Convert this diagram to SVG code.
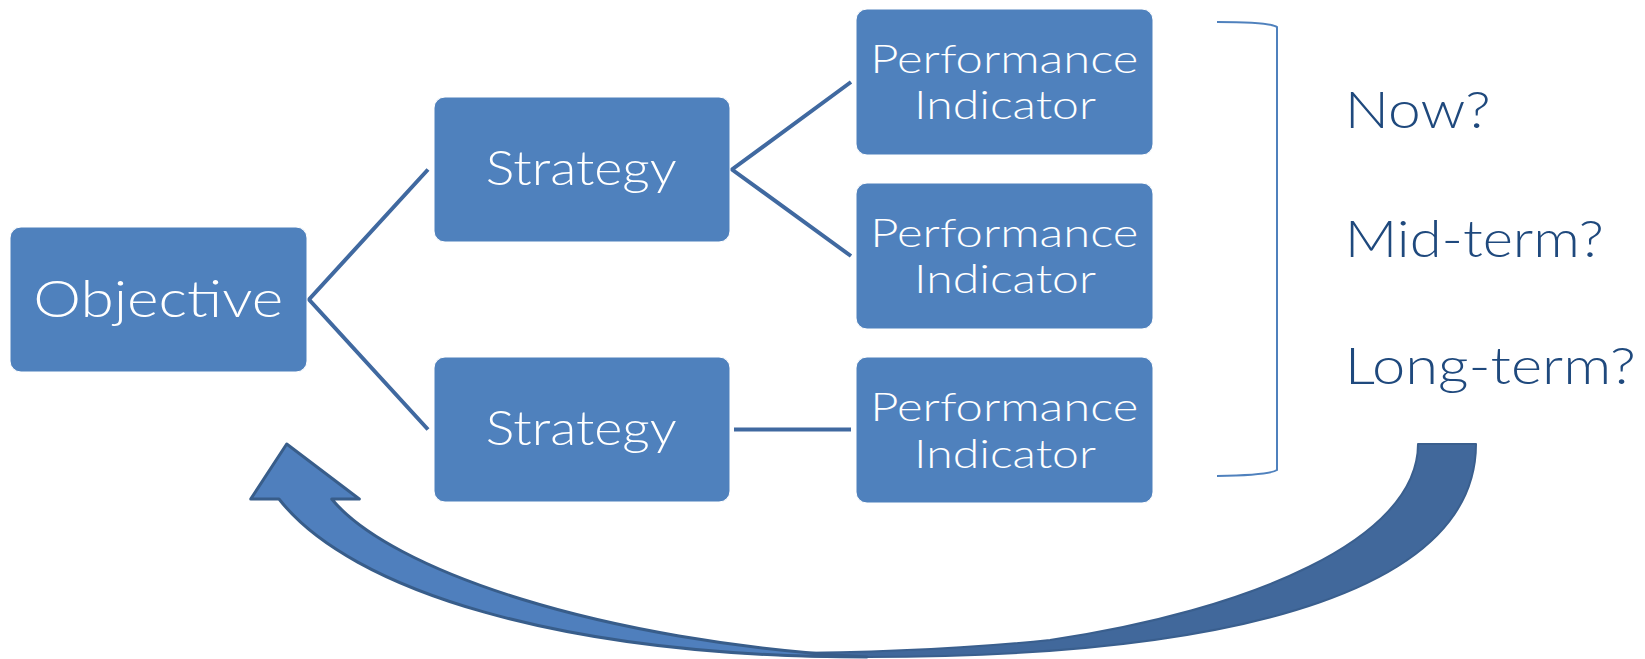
<svg xmlns="http://www.w3.org/2000/svg" width="1645" height="659" viewBox="0 0 1645 659">
<style>
.box{fill:#4F81BD;stroke:#FFFFFF;stroke-width:1}
.lbl{font-family:Lato,"Liberation Sans",sans-serif;font-weight:300;fill:#FFFFFF;text-anchor:middle}
.q{font-family:Lato,"Liberation Sans",sans-serif;font-weight:300;fill:#1F497D;font-size:52px}
.conn{fill:none;stroke:#4069A0;stroke-width:4;stroke-linejoin:miter}
</style>
<rect width="1645" height="659" fill="#FFFFFF"/>
<g id="connectors">
<path class="conn" d="M428,169.5 L309,299.5 L428,429.5"/>
<path class="conn" d="M851,82 L732,169.5 L851,256"/>
<path class="conn" d="M734,429.5 L851,429.5"/>
</g>
<g id="objective">
<rect class="box" x="10" y="227" width="297" height="145" rx="11"/>
<text class="lbl" x="158.3" y="317" font-size="51" textLength="250" lengthAdjust="spacingAndGlyphs">Objective</text>
</g>
<g id="strategy1">
<rect class="box" x="434" y="97" width="296" height="145" rx="11"/>
<text class="lbl" x="581.3" y="185" font-size="47" textLength="191" lengthAdjust="spacingAndGlyphs">Strategy</text>
</g>
<g id="strategy2">
<rect class="box" x="434" y="357" width="296" height="145" rx="11"/>
<text class="lbl" x="581.3" y="445" font-size="47" textLength="191" lengthAdjust="spacingAndGlyphs">Strategy</text>
</g>
<g id="pi1">
<rect class="box" x="856" y="9" width="297" height="146" rx="11"/>
<text class="lbl" x="1004.3" y="72.7" font-size="40" textLength="268" lengthAdjust="spacingAndGlyphs">Performance</text>
<text class="lbl" x="1005" y="119.3" font-size="40" textLength="182" lengthAdjust="spacingAndGlyphs">Indicator</text>
</g>
<g id="pi2">
<rect class="box" x="856" y="183" width="297" height="146" rx="11"/>
<text class="lbl" x="1004.3" y="246.7" font-size="40" textLength="268" lengthAdjust="spacingAndGlyphs">Performance</text>
<text class="lbl" x="1005" y="293.3" font-size="40" textLength="182" lengthAdjust="spacingAndGlyphs">Indicator</text>
</g>
<g id="pi3">
<rect class="box" x="856" y="357" width="297" height="146" rx="11"/>
<text class="lbl" x="1004.3" y="421" font-size="40" textLength="268" lengthAdjust="spacingAndGlyphs">Performance</text>
<text class="lbl" x="1005" y="468" font-size="40" textLength="182" lengthAdjust="spacingAndGlyphs">Indicator</text>
</g>
<g id="bracket">
<path d="M1217,22 Q1270,22 1277,27 L1277,470 Q1270,475 1217,476" fill="none" stroke="#4F81BD" stroke-width="2"/>
</g>
<g id="timeframes">
<text class="q" x="1344.7" y="128.3" textLength="146" lengthAdjust="spacingAndGlyphs">Now?</text>
<text class="q" x="1344.7" y="256.7" textLength="259" lengthAdjust="spacingAndGlyphs">Mid-term?</text>
<text class="q" x="1344.7" y="384.3" textLength="291" lengthAdjust="spacingAndGlyphs">Long-term?</text>
</g>
<g id="feedback-arrow">
<path d="M1418,444 L1476,444 C1476,582 1263,657 867,657 C820,657 780,655.5 735,652.5 C850,654 950,650 1050,640 C1250,610 1418,540 1418,444 Z" fill="#41689B" stroke="#3A5F8E" stroke-width="2" stroke-linejoin="round"/>
<path d="M286.7,444 L359.3,499 L331.7,499 C390,570 600,642 867,657 C560,657 350,590 279,499 L250.7,499 Z" fill="#4F7FBD" stroke="#385D8A" stroke-width="3" stroke-linejoin="round"/>
</g>
</svg>
